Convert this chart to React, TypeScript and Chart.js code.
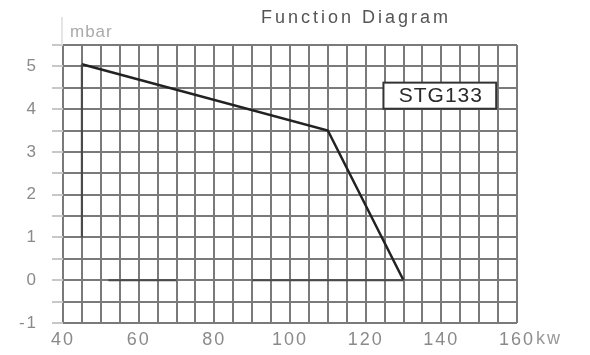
import React, { useEffect, useRef } from "react";
import { Chart, registerables } from "chart.js";

Chart.register(...registerables);

const curveX = [45, 110, 130];
const curveY = [5.05, 3.5, 0];
const edgeSegments: number[][][] = [
  [[45, 5.05], [45, 1]],
  [[52, 0], [70, 0]],
  [[90, 0], [130, 0]],
];
const xMin = 40, xMax = 160, xStep = 5, xLabelEvery = 20;
const yMin = -1, yMax = 5.5, yStep = 0.5;
const titleText = "Function Diagram";
const yUnit = "mbar";
const xUnit = "kw";
const modelName = "STG133";
const modelBox = { x1: 124.7, x2: 154.5, y1: 4.62, y2: 4.01 };

const FONT = "'Liberation Sans', Arial, sans-serif";

const spacingPlugin = {
  id: "spacing",
  beforeDraw(chart: any) {
    (chart.ctx as any).letterSpacing = "2px";
  },
};

const decorPlugin = {
  id: "decor",
  afterDraw(chart: any) {
    const { ctx, chartArea, scales } = chart;
    const xs = scales.x, ys = scales.y;
    ctx.save();
    // title
    ctx.fillStyle = "#555";
    ctx.font = `18px ${FONT}`;
    (ctx as any).letterSpacing = "3px";
    ctx.textAlign = "center";
    ctx.textBaseline = "middle";
    ctx.fillText(titleText, 356, 18);
    // y unit
    ctx.fillStyle = "#aaa";
    ctx.font = `17px ${FONT}`;
    (ctx as any).letterSpacing = "1px";
    ctx.textAlign = "left";
    ctx.fillText(yUnit, 70, 32);
    ctx.strokeStyle = "#ddd";
    ctx.lineWidth = 1.5;
    ctx.beginPath();
    ctx.moveTo(chartArea.left - 1, chartArea.top);
    ctx.lineTo(chartArea.left - 1, 17);
    ctx.stroke();
    // x unit
    ctx.fillStyle = "#999";
    ctx.font = `18px ${FONT}`;
    (ctx as any).letterSpacing = "2px";
    ctx.textAlign = "left";
    ctx.fillText(xUnit, xs.getPixelForValue(xMax) + 19, 339);
    // model box
    const bx1 = xs.getPixelForValue(modelBox.x1);
    const bx2 = xs.getPixelForValue(modelBox.x2);
    const by1 = ys.getPixelForValue(modelBox.y1);
    const by2 = ys.getPixelForValue(modelBox.y2);
    ctx.fillStyle = "#fff";
    ctx.fillRect(bx1, by1, bx2 - bx1, by2 - by1);
    ctx.strokeStyle = "#333";
    ctx.lineWidth = 2;
    ctx.strokeRect(bx1, by1, bx2 - bx1, by2 - by1);
    ctx.fillStyle = "#2a2a2a";
    ctx.font = `21px ${FONT}`;
    (ctx as any).letterSpacing = "1px";
    ctx.textAlign = "center";
    ctx.fillText(modelName, (bx1 + bx2) / 2 + 1, (by1 + by2) / 2 + 1);
    ctx.restore();
  },
};

export default function App() {
  const ref = useRef<HTMLCanvasElement>(null);
  useEffect(() => {
    if (!ref.current) return;
    const edgeSets = edgeSegments.map((seg) => ({
      data: seg.map(([x, y]) => ({ x, y })),
      borderColor: "#4a4a4a",
      borderWidth: 2.2,
      pointRadius: 0,
    }));
    const chart = new Chart(ref.current, {
      type: "line",
      data: {
        datasets: [
          ...edgeSets,
          {
            data: curveX.map((x, i) => ({ x, y: curveY[i] })),
            borderColor: "#222",
            borderWidth: 2.5,
            pointRadius: 0,
          },
        ],
      },
      options: {
        animation: false,
        responsive: false,
        layout: { padding: { top: 45, right: 73, left: 0, bottom: 0 } },
        plugins: { legend: { display: false }, tooltip: { enabled: false }, title: { display: false } },
        scales: {
          x: {
            type: "linear",
            min: xMin,
            max: xMax,
            afterFit: (s: any) => { s.height = 32; },
            ticks: {
              stepSize: xStep,
              autoSkip: false,
              maxRotation: 0,
              padding: 6,
              color: "#8a8a8a",
              font: { family: FONT, size: 18 },
              callback: (v: any) => (Number(v) % xLabelEvery === 0 ? String(v) : ""),
            },
            grid: { color: "#7a7a7a", lineWidth: 2, drawTicks: false },
            border: { display: false },
          },
          y: {
            type: "linear",
            min: yMin,
            max: yMax,
            afterFit: (s: any) => { s.width = 63; },
            ticks: {
              stepSize: yStep,
              autoSkip: false,
              padding: 14,
              color: "#8a8a8a",
              font: { family: FONT, size: 17 },
              callback: (v: any) => (Number.isInteger(Number(v)) ? String(v) : ""),
            },
            grid: { color: "#7a7a7a", lineWidth: 2, tickLength: 11, tickColor: "#c8c8c8" },
            border: { display: false },
          },
        },
      },
      plugins: [spacingPlugin, decorPlugin],
    });
    return () => chart.destroy();
  }, []);
  return (
    <div style={{ position: "fixed", left: 0, top: 0, width: 590, height: 355, background: "#fff" }}>
      <canvas ref={ref} width={590} height={355} style={{ display: "block" }} />
    </div>
  );
}
